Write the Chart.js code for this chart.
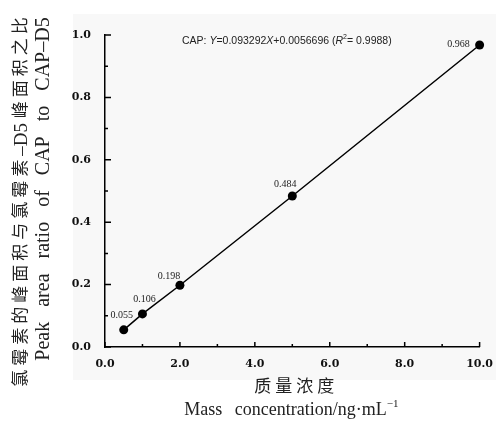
<!DOCTYPE html>
<html>
<head>
<meta charset="utf-8">
<script src="https://cdn.jsdelivr.net/npm/chart.js@4.4.1/dist/chart.umd.min.js"></script>
<style>
  html, body { margin: 0; padding: 0; background: #fff; }
</style>
</head>
<body>
<canvas id="chart" width="496" height="423"></canvas>
<script>
// data
const concentrations = [0.5, 1, 2, 5, 10];
const peakRatios = [0.055, 0.106, 0.198, 0.484, 0.968];
const pointLabels = ['0.055', '0.106', '0.198', '0.484', '0.968'];
const xTickLabels = ['0.0', '2.0', '4.0', '6.0', '8.0', '10.0'];
const yTickLabels = ['0.0', '0.2', '0.4', '0.6', '0.8', '1.0'];
const equationText = ['CAP: ', 'Y', '=0.093292', 'X', '+0.0056696 (', 'R', '2', '= 0.9988)'];

// where each value label sits relative to its point (dx, dy)
const labelOffsets = [[-2, -14], [2, -15], [-11, -9], [-7, -12], [-21, -1]];

const SERIF = '"Liberation Serif", "Noto Sans CJK SC", serif';
const TEXT = '#222';

// draws pieces of text in a row, centred on 0, each with its own font and spacing
function drawPieces(ctx, pieces, y) {
  let total = 0;
  const widths = pieces.map(p => {
    ctx.font = p.font;
    ctx.letterSpacing = p.spacing + 'px';
    const w = ctx.measureText(p.text).width;
    total += w;
    return w;
  });
  let x = -total / 2;
  ctx.textAlign = 'left';
  pieces.forEach((p, i) => {
    ctx.font = p.font;
    ctx.letterSpacing = p.spacing + 'px';
    ctx.fillText(p.text, x, y + (p.dy || 0));
    x += widths[i];
  });
  ctx.letterSpacing = '0px';
}

const innerTicks = {
  id: 'innerTicks',
  beforeDatasetsDraw(chart) {
    const {ctx, scales: {x, y}} = chart;
    ctx.save();
    ctx.strokeStyle = '#000';
    ctx.lineWidth = 1.5;
    ctx.beginPath();
    x.ticks.forEach(t => {
      const px = x.getPixelForValue(t.value);
      const len = t.label ? 5 : 3;
      ctx.moveTo(px, x.top);
      ctx.lineTo(px, x.top - len);
    });
    y.ticks.forEach(t => {
      const py = y.getPixelForValue(t.value);
      const len = t.label ? 6 : 3;
      ctx.moveTo(y.right, py);
      ctx.lineTo(y.right + len, py);
    });
    ctx.stroke();
    ctx.restore();
  }
};

const paperBg = {
  id: 'paperBg',
  beforeDraw(chart) {
    const {ctx, chartArea} = chart;
    ctx.save();
    ctx.fillStyle = '#f8f8f8';
    ctx.fillRect(chartArea.left - 32, 14, chart.width - chartArea.left + 32, 366);
    ctx.restore();
  }
};

const valueLabels = {
  id: 'valueLabels',
  afterDatasetsDraw(chart) {
    const {ctx} = chart;
    const meta = chart.getDatasetMeta(0);
    ctx.save();
    ctx.font = '10px ' + SERIF;
    ctx.fillStyle = TEXT;
    ctx.textAlign = 'center';
    ctx.textBaseline = 'middle';
    meta.data.forEach((pt, i) => {
      ctx.fillText(pointLabels[i], pt.x + labelOffsets[i][0], pt.y + labelOffsets[i][1]);
    });
    ctx.restore();
  }
};

const equation = {
  id: 'equation',
  afterDraw(chart) {
    const {ctx, chartArea} = chart;
    let px = chartArea.left + 77;
    const py = chartArea.top + 6;
    ctx.save();
    ctx.fillStyle = TEXT;
    ctx.textBaseline = 'middle';
    equationText.forEach(part => {
      const italic = part === 'Y' || part === 'X' || part === 'R';
      const sup = part === '2';
      ctx.font = (italic ? 'italic ' : '') + (sup ? '7px' : '10.5px') + ' "Liberation Sans", Arial, sans-serif';
      ctx.fillText(part, px, sup ? py - 4 : py);
      px += ctx.measureText(part).width;
    });
    ctx.restore();
  }
};

const axisTitles = {
  id: 'axisTitles',
  afterDraw(chart) {
    const {ctx, chartArea} = chart;
    const cx = (chartArea.left + chartArea.right) / 2;
    const cy = (chartArea.top + chartArea.bottom) / 2;
    const cjk = '17px ' + SERIF;
    ctx.save();
    ctx.fillStyle = TEXT;
    ctx.textBaseline = 'middle';

    // y title, two rotated lines
    ctx.save();
    ctx.translate(22, cy + 9);
    ctx.rotate(-Math.PI / 2);
    drawPieces(ctx, [
      {text: '氯霉素的峰面积与氯霉素', font: cjk, spacing: 4},
      {text: '–D5 ', font: '19px ' + SERIF, spacing: 0},
      {text: '峰面积之比', font: cjk, spacing: 4}
    ], 0);
    ctx.restore();

    ctx.save();
    ctx.translate(44, cy - 2);
    ctx.rotate(-Math.PI / 2);
    ctx.font = '20px ' + SERIF;
    ctx.wordSpacing = '10px';
    ctx.textAlign = 'center';
    ctx.fillText('Peak area ratio of CAP to CAP–D5', 0, 0);
    ctx.wordSpacing = '0px';
    ctx.restore();

    // x title
    ctx.save();
    ctx.translate(cx + 4, 388);
    drawPieces(ctx, [{text: '质量浓度', font: cjk, spacing: 4}], 0);
    ctx.restore();

    ctx.save();
    ctx.translate(cx - 1, 410);
    ctx.wordSpacing = '8px';
    drawPieces(ctx, [
      {text: 'Mass concentration/ng·mL', font: '18px ' + SERIF, spacing: 0},
      {text: '−1', font: '11px ' + SERIF, spacing: 0, dy: -6}
    ], 0);
    ctx.wordSpacing = '0px';
    ctx.restore();
    ctx.restore();
  }
};

new Chart(document.getElementById('chart'), {
  type: 'scatter',
  data: {
    datasets: [{
      data: concentrations.map((c, i) => ({x: c, y: peakRatios[i]})),
      showLine: true,
      borderColor: '#000',
      borderWidth: 1.5,
      backgroundColor: '#000',
      pointRadius: 4.5,
      pointHoverRadius: 4.5,
      pointBorderWidth: 0,
      clip: false
    }]
  },
  options: {
    responsive: false,
    animation: false,
    events: [],
    layout: { padding: { top: 35, right: 15, left: 0, bottom: 0 } },
    plugins: { legend: { display: false }, tooltip: { enabled: false } },
    scales: {
      x: {
        type: 'linear',
        min: 0,
        max: 10,
        grid: { display: false },
        border: { display: true, color: '#000', width: 1.5 },
        ticks: {
          stepSize: 1,
          padding: 3,
          maxRotation: 0,
          autoSkip: false,
          color: '#111',
          font: { family: '"DejaVu Serif", serif', size: 11, weight: 'bold' },
          callback: v => (Math.round(v) % 2 === 0 ? xTickLabels[Math.round(v) / 2] : '')
        },
        afterFit(scale) { scale.height = 76; }
      },
      y: {
        type: 'linear',
        min: 0,
        max: 1,
        grid: { display: false },
        border: { display: true, color: '#000', width: 1.5 },
        ticks: {
          stepSize: 0.1,
          padding: 6,
          autoSkip: false,
          color: '#111',
          font: { family: '"DejaVu Serif", serif', size: 11, weight: 'bold' },
          callback: v => {
            const k = Math.round(v * 10);
            return k % 2 === 0 ? yTickLabels[k / 2] : '';
          }
        },
        afterFit(scale) { scale.width = 105; }
      }
    }
  },
  plugins: [paperBg, innerTicks, valueLabels, equation, axisTitles]
});
</script>
</body>
</html>
